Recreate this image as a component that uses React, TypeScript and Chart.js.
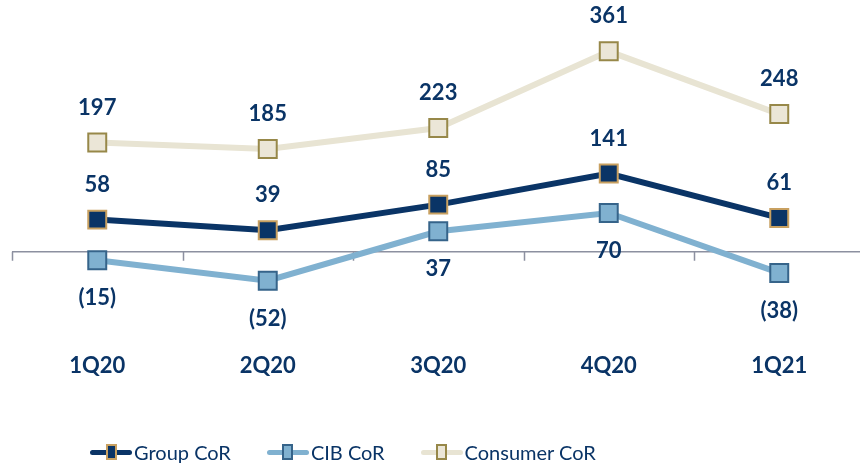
import React, { useEffect, useRef } from "react";
import { Chart, registerables } from "chart.js";

Chart.register(...registerables);

const categories = ["1Q20", "2Q20", "3Q20", "4Q20", "1Q21"];
const groupCoR = [58, 39, 85, 141, 61];
const cibCoR = [-15, -52, 37, 70, -38];
const consumerCoR = [197, 185, 223, 361, 248];
const seriesNames = ["Group CoR", "CIB CoR", "Consumer CoR"];

const NAVY = "#0a3466";
const fmt = (v: number) => (v < 0 ? `(${Math.abs(v)})` : `${v}`);

const overlayPlugin = {
  id: "overlay",
  beforeDatasetsDraw(chart: any) {
    const { ctx, chartArea, scales } = chart;
    const x = scales.x;
    const y = scales.y;
    const y0 = y.getPixelForValue(0);
    const step = x.getPixelForValue(1) - x.getPixelForValue(0);
    ctx.save();
    ctx.strokeStyle = "#8c90a0";
    ctx.lineWidth = 1.5;
    ctx.beginPath();
    ctx.moveTo(chartArea.left, y0);
    ctx.lineTo(chart.width, y0);
    for (let i = 0; i <= categories.length; i++) {
      const px = Math.round(x.getPixelForValue(i) - step / 2) + 0.5;
      ctx.moveTo(px, y0);
      ctx.lineTo(px, y0 + 9);
    }
    ctx.stroke();
    ctx.restore();
  },
  afterDatasetsDraw(chart: any) {
    const { ctx, scales } = chart;
    const x = scales.x;
    ctx.save();
    ctx.fillStyle = NAVY;
    ctx.textAlign = "center";
    ctx.textBaseline = "middle";
    ctx.font = "bold 22px Lato";
    chart.data.datasets.forEach((ds: any, di: number) => {
      const meta = chart.getDatasetMeta(di);
      meta.data.forEach((pt: any, i: number) => {
        const v = ds.data[i];
        const off = di === 1 ? 38 : -35;
        ctx.fillText(fmt(v), pt.x, pt.y + off);
      });
    });
    categories.forEach((c, i) => {
      ctx.fillText(c, x.getPixelForValue(i), 366);
    });
    ctx.restore();
  },
};

function LegendItem({ line, fill, border, label }: any) {
  return (
    <div style={{ display: "flex", alignItems: "center", marginRight: 36 }}>
      <div style={{ position: "relative", width: 42, height: 16, marginRight: 2 }}>
        <div
          style={{
            position: "absolute",
            left: 0,
            top: 5.5,
            width: 42,
            height: 5,
            borderRadius: 3,
            background: line,
          }}
        />
        <div
          style={{
            position: "absolute",
            left: 15.5,
            top: 0,
            width: 11,
            height: 16,
            boxSizing: "border-box",
            background: fill,
            border: `2px solid ${border}`,
          }}
        />
      </div>
      <span style={{ fontFamily: "Lato", fontSize: 20, color: NAVY, whiteSpace: "nowrap" }}>
        {label}
      </span>
    </div>
  );
}

export default function App() {
  const ref = useRef<HTMLCanvasElement | null>(null);

  useEffect(() => {
    if (!ref.current) return;
    const chart = new Chart(ref.current, {
      type: "line",
      data: {
        labels: categories,
        datasets: [
          {
            label: seriesNames[0],
            data: groupCoR,
            borderColor: NAVY,
            borderWidth: 6,
            pointStyle: "rect",
            pointRadius: 12.7,
            pointBackgroundColor: NAVY,
            pointBorderColor: "#c8a060",
            pointBorderWidth: 2,
            tension: 0,
            clip: false,
          },
          {
            label: seriesNames[1],
            data: cibCoR,
            borderColor: "#80b1d0",
            borderWidth: 6,
            pointStyle: "rect",
            pointRadius: 12.7,
            pointBackgroundColor: "#80b1d0",
            pointBorderColor: "#36648a",
            pointBorderWidth: 2,
            tension: 0,
            clip: false,
          },
          {
            label: seriesNames[2],
            data: consumerCoR,
            borderColor: "#e8e4d3",
            borderWidth: 6,
            pointStyle: "rect",
            pointRadius: 12.7,
            pointBackgroundColor: "#ebe6d7",
            pointBorderColor: "#978849",
            pointBorderWidth: 2,
            tension: 0,
            clip: false,
          },
        ],
      },
      options: {
        animation: false,
        responsive: false,
        maintainAspectRatio: false,
        layout: { autoPadding: false, padding: { left: 12, right: 15.5, top: 0, bottom: 46 } },
        plugins: { legend: { display: false }, tooltip: { enabled: false } },
        scales: {
          x: { display: false, offset: true },
          y: { display: false, min: -302.8, max: 453.4 },
        },
      },
      plugins: [overlayPlugin],
    });
    return () => chart.destroy();
  }, []);

  return (
    <div
      style={{
        position: "absolute",
        left: 0,
        top: 0,
        width: 860,
        height: 466,
        overflow: "hidden",
        background: "#ffffff",
      }}
    >
      <canvas ref={ref} width={880} height={466} style={{ width: 880, height: 466, display: "block" }} />
      <div
        style={{
          position: "absolute",
          left: 90,
          top: 440,
          height: 24,
          display: "flex",
          alignItems: "center",
        }}
      >
        <LegendItem line={NAVY} fill={NAVY} border="#c8a060" label={seriesNames[0]} />
        <LegendItem line="#80b1d0" fill="#80b1d0" border="#36648a" label={seriesNames[1]} />
        <LegendItem line="#e8e4d3" fill="#ebe6d7" border="#978849" label={seriesNames[2]} />
      </div>
    </div>
  );
}
